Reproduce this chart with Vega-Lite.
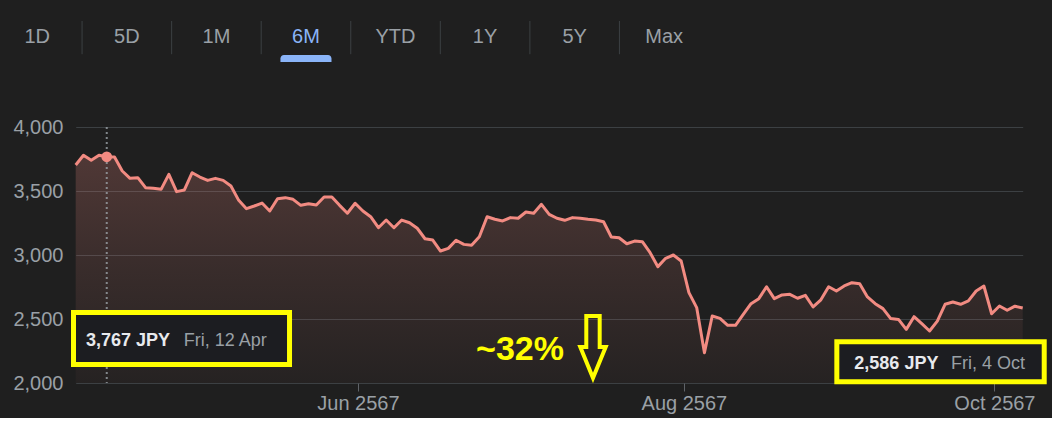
{
  "$schema": "https://vega.github.io/schema/vega-lite/v6.json",
  "background": "#1f1f1f",
  "padding": {"left": 12, "top": 20, "right": 5, "bottom": 5},
  "bounds": "flush",
  "spacing": 65,
  "config": {"view": {"stroke": null}, "font": "Liberation Sans"},
  "datasets": {
    "tabs": [
      {"tab": "1D", "selected": false},
      {"tab": "5D", "selected": false},
      {"tab": "1M", "selected": false},
      {"tab": "6M", "selected": true},
      {"tab": "YTD", "selected": false},
      {"tab": "1Y", "selected": false},
      {"tab": "5Y", "selected": false},
      {"tab": "Max", "selected": false}
    ],
    "prices": [
      {"date": "2024-04-08", "value": 3703},
      {"date": "2024-04-09", "value": 3779},
      {"date": "2024-04-10", "value": 3740},
      {"date": "2024-04-11", "value": 3779},
      {"date": "2024-04-12", "value": 3767},
      {"date": "2024-04-15", "value": 3765},
      {"date": "2024-04-16", "value": 3656},
      {"date": "2024-04-17", "value": 3599},
      {"date": "2024-04-18", "value": 3604},
      {"date": "2024-04-19", "value": 3526},
      {"date": "2024-04-22", "value": 3521},
      {"date": "2024-04-23", "value": 3513},
      {"date": "2024-04-24", "value": 3630},
      {"date": "2024-04-25", "value": 3495},
      {"date": "2024-04-26", "value": 3508},
      {"date": "2024-04-30", "value": 3643},
      {"date": "2024-05-01", "value": 3609},
      {"date": "2024-05-02", "value": 3583},
      {"date": "2024-05-07", "value": 3599},
      {"date": "2024-05-08", "value": 3583},
      {"date": "2024-05-09", "value": 3539},
      {"date": "2024-05-10", "value": 3427},
      {"date": "2024-05-13", "value": 3362},
      {"date": "2024-05-14", "value": 3383},
      {"date": "2024-05-15", "value": 3406},
      {"date": "2024-05-16", "value": 3344},
      {"date": "2024-05-17", "value": 3440},
      {"date": "2024-05-20", "value": 3448},
      {"date": "2024-05-21", "value": 3435},
      {"date": "2024-05-22", "value": 3388},
      {"date": "2024-05-23", "value": 3401},
      {"date": "2024-05-24", "value": 3391},
      {"date": "2024-05-27", "value": 3453},
      {"date": "2024-05-28", "value": 3453},
      {"date": "2024-05-29", "value": 3388},
      {"date": "2024-05-30", "value": 3326},
      {"date": "2024-05-31", "value": 3404},
      {"date": "2024-06-03", "value": 3344},
      {"date": "2024-06-04", "value": 3299},
      {"date": "2024-06-05", "value": 3213},
      {"date": "2024-06-06", "value": 3273},
      {"date": "2024-06-07", "value": 3213},
      {"date": "2024-06-10", "value": 3273},
      {"date": "2024-06-11", "value": 3252},
      {"date": "2024-06-12", "value": 3209},
      {"date": "2024-06-13", "value": 3127},
      {"date": "2024-06-14", "value": 3117},
      {"date": "2024-06-17", "value": 3031},
      {"date": "2024-06-18", "value": 3052},
      {"date": "2024-06-19", "value": 3115},
      {"date": "2024-06-20", "value": 3083},
      {"date": "2024-06-21", "value": 3076},
      {"date": "2024-06-24", "value": 3143},
      {"date": "2024-06-25", "value": 3299},
      {"date": "2024-06-26", "value": 3279},
      {"date": "2024-06-27", "value": 3266},
      {"date": "2024-06-28", "value": 3292},
      {"date": "2024-07-01", "value": 3287},
      {"date": "2024-07-02", "value": 3336},
      {"date": "2024-07-03", "value": 3326},
      {"date": "2024-07-04", "value": 3396},
      {"date": "2024-07-05", "value": 3318},
      {"date": "2024-07-08", "value": 3287},
      {"date": "2024-07-09", "value": 3271},
      {"date": "2024-07-10", "value": 3292},
      {"date": "2024-07-11", "value": 3287},
      {"date": "2024-07-12", "value": 3279},
      {"date": "2024-07-16", "value": 3273},
      {"date": "2024-07-17", "value": 3260},
      {"date": "2024-07-18", "value": 3141},
      {"date": "2024-07-19", "value": 3135},
      {"date": "2024-07-22", "value": 3088},
      {"date": "2024-07-23", "value": 3109},
      {"date": "2024-07-24", "value": 3104},
      {"date": "2024-07-25", "value": 3018},
      {"date": "2024-07-26", "value": 2909},
      {"date": "2024-07-29", "value": 2974},
      {"date": "2024-07-30", "value": 3000},
      {"date": "2024-07-31", "value": 2953},
      {"date": "2024-08-01", "value": 2706},
      {"date": "2024-08-02", "value": 2589},
      {"date": "2024-08-05", "value": 2237},
      {"date": "2024-08-06", "value": 2523},
      {"date": "2024-08-07", "value": 2505},
      {"date": "2024-08-08", "value": 2451},
      {"date": "2024-08-09", "value": 2451},
      {"date": "2024-08-13", "value": 2537},
      {"date": "2024-08-14", "value": 2620},
      {"date": "2024-08-15", "value": 2659},
      {"date": "2024-08-16", "value": 2752},
      {"date": "2024-08-19", "value": 2659},
      {"date": "2024-08-20", "value": 2688},
      {"date": "2024-08-21", "value": 2693},
      {"date": "2024-08-22", "value": 2662},
      {"date": "2024-08-23", "value": 2685},
      {"date": "2024-08-26", "value": 2594},
      {"date": "2024-08-27", "value": 2650},
      {"date": "2024-08-28", "value": 2752},
      {"date": "2024-08-29", "value": 2719},
      {"date": "2024-08-30", "value": 2758},
      {"date": "2024-09-02", "value": 2784},
      {"date": "2024-09-03", "value": 2776},
      {"date": "2024-09-04", "value": 2672},
      {"date": "2024-09-05", "value": 2620},
      {"date": "2024-09-06", "value": 2581},
      {"date": "2024-09-09", "value": 2503},
      {"date": "2024-09-10", "value": 2497},
      {"date": "2024-09-11", "value": 2419},
      {"date": "2024-09-12", "value": 2518},
      {"date": "2024-09-13", "value": 2463},
      {"date": "2024-09-17", "value": 2406},
      {"date": "2024-09-18", "value": 2484},
      {"date": "2024-09-19", "value": 2615},
      {"date": "2024-09-20", "value": 2633},
      {"date": "2024-09-24", "value": 2615},
      {"date": "2024-09-25", "value": 2641},
      {"date": "2024-09-26", "value": 2719},
      {"date": "2024-09-27", "value": 2758},
      {"date": "2024-09-30", "value": 2541},
      {"date": "2024-10-01", "value": 2602},
      {"date": "2024-10-02", "value": 2568},
      {"date": "2024-10-03", "value": 2600},
      {"date": "2024-10-04", "value": 2586}
    ]
  },
  "resolve": {"scale": {"x": "independent", "y": "independent", "color": "independent"}},
  "vconcat": [
    {
      "width": 968,
      "height": 41,
      "data": {"name": "tabs"},
      "layer": [
        {
          "transform": [{"filter": "datum.tab !== '1D'"}],
          "mark": {"type": "rule", "color": "#3c4043", "strokeWidth": 1},
          "encoding": {
            "x": {"field": "tab", "type": "nominal", "bandPosition": 0,
                  "scale": {"type": "band", "domain": ["1D", "5D", "1M", "6M", "YTD", "1Y", "5Y", "Max"], "range": [-71.5, 645], "paddingInner": 0, "paddingOuter": 0},
                  "axis": null},
            "y": {"datum": 0.19, "type": "quantitative", "scale": {"domain": [0, 1], "nice": false, "zero": true}, "axis": null},
            "y2": {"datum": 1}
          }
        },
        {
          "transform": [{"filter": "datum.selected"}],
          "mark": {"type": "bar", "color": "#8ab4f8", "width": {"band": 0.57}, "cornerRadiusTopLeft": 4, "cornerRadiusTopRight": 4},
          "encoding": {
            "x": {"field": "tab", "type": "nominal", "axis": null},
            "y": {"datum": 0, "type": "quantitative", "axis": null},
            "y2": {"datum": 0.17}
          }
        },
        {
          "mark": {"type": "text", "fontSize": 20, "baseline": "middle", "align": "center"},
          "encoding": {
            "x": {"field": "tab", "type": "nominal", "axis": null},
            "y": {"datum": 0.6, "type": "quantitative", "axis": null},
            "text": {"field": "tab"},
            "color": {"condition": {"test": "datum.selected", "value": "#8ab4f8"}, "value": "#9aa0a6"}
          }
        }
      ]
    },
    {
      "width": 968,
      "height": 256,
      "resolve": {"scale": {"x": "independent"}, "axis": {"x": "independent"}},
      "layer": [
        {
          "data": {"name": "prices"},
          "encoding": {
            "x": {"field": "date", "type": "ordinal",
                  "scale": {"type": "point", "padding": 0, "range": [11.7, 958.7]},
                  "axis": {"values": ["2024-06-03", "2024-08-01", "2024-10-01"],
                           "labelExpr": "utcFormat(toDate(datum.value), '%b') + ' ' + (utcyear(toDate(datum.value)) + 543)",
                           "labelAngle": 0, "labelAlign": "center", "labelBaseline": "top", "labelFontSize": 20, "labelColor": "#9aa0a6",
                           "labelPadding": 2, "ticks": true, "tickSize": 8, "tickColor": "#5f6368", "tickWidth": 1, "tickOffset": -5,
                           "domain": false, "grid": false, "title": null}},
            "y": {"field": "value", "type": "quantitative",
                  "scale": {"domain": [2000, 4000], "zero": false, "nice": false},
                  "axis": {"values": [2000, 2500, 3000, 3500, 4000], "format": ",.0f", "labelFontSize": 20, "labelColor": "#9aa0a6",
                           "labelPadding": 1, "ticks": false, "tickSize": 0, "domain": false, "grid": true,
                           "gridColor": "#3c4043", "gridWidth": 1, "title": null}}
          },
          "layer": [
            {
              "mark": {"type": "area", "opacity": 1, "color": {"gradient": "linear", "x1": 0, "y1": 0, "x2": 0, "y2": 1,
                       "stops": [{"offset": 0, "color": "rgba(242,139,130,0.23)"}, {"offset": 0.5, "color": "rgba(242,139,130,0.12)"}, {"offset": 1, "color": "rgba(242,139,130,0.03)"}]}},
              "encoding": {"y2": {"datum": 2000}}
            },
            {
              "mark": {"type": "line", "color": "#f28b82", "strokeWidth": 3, "strokeJoin": "round"}
            },
            {
              "transform": [{"filter": "datum.date === '2024-04-12'"}],
              "mark": {"type": "rule", "color": "#9aa0a6", "strokeDash": [2, 3], "strokeWidth": 2, "opacity": 0.8},
              "encoding": {"x": {"field": "date", "type": "ordinal"}, "y": null}
            },
            {
              "transform": [{"filter": "datum.date === '2024-04-12'"}],
              "mark": {"type": "point", "filled": true, "color": "#f28b82", "size": 115, "opacity": 1}
            }
          ]
        },
        {
          "data": {"values": [{}]},
          "layer": [
            {
              "mark": {"type": "rect", "fill": "#1c1d21", "stroke": "#ffff00", "strokeWidth": 5},
              "encoding": {
                "x": {"datum": {"year": 2024, "month": 4, "date": 7, "hours": 13, "minutes": 38, "utc": true}, "type": "temporal",
                      "scale": {"type": "utc", "nice": false,
                                "domain": [{"year": 2024, "month": 4, "date": 5, "hours": 18, "minutes": 32, "utc": true},
                                           {"year": 2024, "month": 10, "date": 5, "hours": 17, "minutes": 46, "utc": true}]},
                      "axis": null},
                "x2": {"datum": {"year": 2024, "month": 5, "date": 18, "hours": 9, "minutes": 36, "utc": true}},
                "y": {"datum": 2551, "type": "quantitative"},
                "y2": {"datum": 2145}
              }
            },
            {
              "mark": {"type": "rect", "fill": "#1c1d21", "stroke": "#ffff00", "strokeWidth": 5},
              "encoding": {
                "x": {"datum": {"year": 2024, "month": 8, "date": 29, "hours": 20, "minutes": 24, "utc": true}, "type": "temporal", "axis": null},
                "x2": {"datum": {"year": 2024, "month": 10, "date": 8, "hours": 1, "minutes": 12, "utc": true}},
                "y": {"datum": 2322, "type": "quantitative"},
                "y2": {"datum": 2009}
              }
            },
            {
              "mark": {"type": "text", "text": "3,767 JPY", "align": "left", "baseline": "alphabetic", "fontSize": 18, "fontWeight": "bold", "color": "#e8eaed"},
              "encoding": {
                "x": {"datum": {"year": 2024, "month": 4, "date": 9, "hours": 22, "minutes": 20, "utc": true}, "type": "temporal", "axis": null},
                "y": {"datum": 2289, "type": "quantitative"}
              }
            },
            {
              "mark": {"type": "text", "text": "Fri, 12 Apr", "align": "left", "baseline": "alphabetic", "fontSize": 18, "color": "#9aa0a6"},
              "encoding": {
                "x": {"datum": {"year": 2024, "month": 4, "date": 28, "hours": 9, "minutes": 36, "utc": true}, "type": "temporal", "axis": null},
                "y": {"datum": 2289, "type": "quantitative"}
              }
            },
            {
              "mark": {"type": "text", "text": "2,586 JPY", "align": "left", "baseline": "alphabetic", "fontSize": 18, "fontWeight": "bold", "color": "#e8eaed"},
              "encoding": {
                "x": {"datum": {"year": 2024, "month": 9, "date": 2, "hours": 3, "minutes": 50, "utc": true}, "type": "temporal", "axis": null},
                "y": {"datum": 2112, "type": "quantitative"}
              }
            },
            {
              "mark": {"type": "text", "text": "Fri, 4 Oct", "align": "left", "baseline": "alphabetic", "fontSize": 18, "color": "#9aa0a6"},
              "encoding": {
                "x": {"datum": {"year": 2024, "month": 9, "date": 20, "hours": 10, "minutes": 35, "utc": true}, "type": "temporal", "axis": null},
                "y": {"datum": 2112, "type": "quantitative"}
              }
            },
            {
              "mark": {"type": "text", "text": "~32%", "align": "center", "baseline": "alphabetic", "fontSize": 34, "fontWeight": "bold", "color": "#ffff00"},
              "encoding": {
                "x": {"datum": {"year": 2024, "month": 6, "date": 30, "hours": 23, "minutes": 15, "utc": true}, "type": "temporal", "axis": null},
                "y": {"datum": 2177, "type": "quantitative"}
              }
            },
            {
              "mark": {"type": "point", "shape": "M-0.216,-1L0.216,-1L0.216,0L0.41,0L0,1L-0.41,0L-0.216,0Z", "filled": false, "color": "#ffff00", "strokeWidth": 4, "size": 3844, "opacity": 1},
              "encoding": {
                "x": {"datum": {"year": 2024, "month": 7, "date": 14, "hours": 18, "minutes": 15, "utc": true}, "type": "temporal", "axis": null},
                "y": {"datum": 2281, "type": "quantitative"}
              }
            }
          ]
        }
      ]
    }
  ]
}
